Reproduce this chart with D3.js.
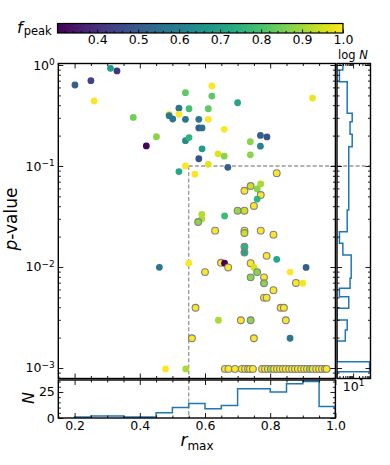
<!DOCTYPE html>
<html lang="en">
<head>
<meta charset="utf-8" />
<title>r_max vs p-value</title>
<script src="https://cdn.jsdelivr.net/npm/d3@7"></script>
<style>
  body { margin: 0; background: #fff; }
  svg { font-family: "DejaVu Sans", sans-serif; }
</style>
</head>
<body>
<svg id="chart" width="390" height="465"></svg>
<script>
// scatter points: r_max, p-value, f_peak, and whether the point is in the selected set (grey edge)
const rMax = [0.201, 0.250, 0.310, 0.330, 0.260, 0.380, 0.451, 0.420, 0.540, 0.621,
  0.621, 0.700, 0.930, 0.490, 0.490, 0.501, 0.520, 0.520, 0.551, 0.540,
  0.581, 0.610, 0.610, 0.581, 0.591, 0.659, 0.540, 0.551, 0.591, 0.581,
  0.640, 0.659, 0.739, 0.739, 0.770, 0.790, 0.770, 0.540, 0.610, 0.670,
  0.520, 0.569, 0.820, 0.740, 0.771, 0.721, 0.760, 0.771, 0.760, 0.750,
  0.700, 0.721, 0.590, 0.590, 0.579, 0.660, 0.631, 0.721, 0.721, 0.771,
  0.810, 0.721, 0.721, 0.789, 0.820, 0.460, 0.550, 0.649, 0.660, 0.671,
  0.740, 0.750, 0.760, 0.600, 0.861, 0.910, 0.740, 0.781, 0.879, 0.900,
  0.781, 0.810, 0.781, 0.789, 0.832, 0.842, 0.571, 0.641, 0.710, 0.740,
  0.848, 0.560, 0.750, 0.861, 0.479, 0.541];
const pValue = [0.634, 0.70, 0.927, 0.873, 0.44, 0.303, 0.195, 0.158, 0.532, 0.62,
  0.493, 0.423, 0.471, 0.325, 0.315, 0.292, 0.373, 0.325, 0.369, 0.29,
  0.29, 0.369, 0.29, 0.238, 0.238, 0.231, 0.178, 0.191, 0.148, 0.118,
  0.132, 0.125, 0.174, 0.129, 0.201, 0.194, 0.157, 0.100, 0.104, 0.097,
  0.088, 0.083, 0.085, 0.0634, 0.0664, 0.0569, 0.0592, 0.0516, 0.0471, 0.0402,
  0.0361, 0.0361, 0.0332, 0.0299, 0.0279, 0.032, 0.0229, 0.0229, 0.0217, 0.0229,
  0.0209, 0.0159, 0.0139, 0.0129, 0.0119, 0.00993, 0.0109, 0.0110, 0.0109, 0.0099,
  0.0109, 0.0099, 0.0089, 0.0089, 0.0089, 0.0099, 0.0079, 0.0079, 0.00695, 0.0069,
  0.0069, 0.0059, 0.00497, 0.00497, 0.00395, 0.00395, 0.00395, 0.00297, 0.00297, 0.00297,
  0.00297, 0.00197, 0.00197, 0.00197, 0.00098, 0.00098];
const fPeak = [0.51, 0.44, 0.69, 0.41, 1.0, 0.85, 0.875, 0.31, 0.826, 1.0,
  0.826, 0.72, 0.98, 1.0, 0.58, 0.58, 0.58, 1.0, 0.79, 0.58,
  0.58, 0.826, 1.0, 0.50, 0.55, 1.0, 0.65, 0.756, 0.69, 0.477,
  0.97, 0.875, 0.875, 0.875, 0.51, 0.477, 0.62, 1.0, 0.97, 0.51,
  0.72, 1.0, 1.0, 0.95, 0.91, 1.0, 0.875, 1.0, 0.756, 1.0,
  0.89, 0.95, 0.916, 0.916, 0.875, 0.78, 1.0, 1.0, 0.95, 1.0,
  1.0, 0.756, 0.72, 1.0, 0.72, 0.58, 1.0, 1.0, 0.303, 1.0,
  1.0, 0.958, 0.875, 1.0, 1.0, 0.51, 0.875, 1.0, 1.0, 0.99,
  0.875, 1.0, 1.0, 1.0, 1.0, 1.0, 1.0, 0.91, 1.0, 0.875,
  1.0, 1.0, 1.0, 0.58, 1.0, 0.91];
const selected = [0, 0, 0, 0, 0, 0, 0, 0, 0, 0,
  0, 0, 0, 0, 0, 0, 0, 0, 0, 0,
  0, 0, 0, 0, 0, 0, 0, 0, 0, 0,
  0, 0, 0, 0, 0, 0, 0, 0, 0, 0,
  0, 0, 1, 1, 0, 1, 0, 1, 0, 1,
  1, 1, 0, 0, 1, 0, 1, 1, 1, 1,
  1, 1, 1, 1, 0, 0, 0, 1, 0, 1,
  1, 0, 1, 1, 0, 0, 1, 1, 1, 0,
  1, 1, 1, 1, 1, 1, 1, 0, 1, 1,
  1, 1, 1, 0, 0, 0];

// points piled up at the p-value floor (all selected)
const floorP = 0.00098;
const floorR = [0.661, 0.672, 0.692, 0.713, 0.723, 0.732, 0.738, 0.747, 0.775, 0.784,
  0.793, 0.802, 0.812, 0.821, 0.830, 0.839, 0.848, 0.858, 0.867, 0.876,
  0.885, 0.895, 0.904, 0.913, 0.922, 0.931, 0.941, 0.950, 0.959, 0.968, 0.973];
const floorF = [1.0, 1.0, 1.0, 1.0, 1.0, 1.0, 1.0, 1.0, 1.0, 1.0,
  1.0, 0.9, 1.0, 1.0, 1.0, 1.0, 1.0, 1.0, 1.0, 1.0,
  1.0, 1.0, 1.0, 1.0, 0.9, 1.0, 1.0, 1.0, 1.0, 1.0, 1.0];

// bottom histogram of r_max
const rEdges = [0.2, 0.25, 0.3, 0.35, 0.4, 0.45, 0.5, 0.55, 0.6, 0.65, 0.7, 0.75, 0.8, 0.85, 0.9, 0.95, 1.0];
const rCounts = [1, 2, 2, 1, 1, 5, 10, 14, 9, 12, 28, 28, 25, 33, 35, 11];

// side histogram of p-value (bin edges as log10 p), counts on a log axis
const pEdgesLog = [0.015, -0.05, -0.165, -0.478, -0.561, -0.686, -0.809, -1.436, -1.650, -1.765,
  -1.881, -2.112, -2.211, -2.294, -2.409, -2.525, -2.624, -2.733, -2.938, -3.037, -3.104];
const pCounts = [3, 2, 5, 9, 7, 9, 6, 5, 2, 3, 8, 7, 2, 6, 0, 5, 4, 0, 70, 0];

// thresholds
const rCut = 0.55;
const pCut = 0.1;

// colorbar ticks
const cbTicks = [0.4, 0.5, 0.6, 0.7, 0.8, 0.9, 1.0];

const svg = d3.select("#chart");

// panel boxes
const main = { x0: 58.3, x1: 335.4, y0: 63.5, y1: 378.5 };
const side = { x0: 337, x1: 370.5, y0: 63.5, y1: 378.5 };
const bot = { x0: 58.3, x1: 335.4, y0: 380, y1: 418 };
const cb = { x0: 57.5, x1: 343, y0: 23.5, y1: 33 };

const x = d3.scaleLinear().domain([0.15, 1.0]).range([main.x0, main.x1]);
const y = d3.scaleLog().domain([Math.pow(10, -3.104), Math.pow(10, 0.0149)]).range([main.y1, main.y0]);
const nY = d3.scaleLinear().domain([0, 36.5]).range([bot.y1, bot.y0]);
const nX = d3.scaleLog().domain([1.5, 78]).range([side.x0, side.x1]).clamp(true);
const cX = d3.scaleLinear().domain([0.303, 1.0]).range([cb.x0, cb.x1]);
const color = d3.scaleSequential(d3.interpolateViridis).domain([0.303, 1.0]);

const defs = svg.append("defs");
[["clip-main", main], ["clip-side", side], ["clip-bot", bot]].forEach(([id, b]) => {
  defs.append("clipPath").attr("id", id)
    .append("rect").attr("x", b.x0).attr("y", b.y0)
    .attr("width", b.x1 - b.x0).attr("height", b.y1 - b.y0);
});

// ---- colorbar
const grad = defs.append("linearGradient").attr("id", "viridis");
d3.range(0, 1.0001, 0.05).forEach(t => {
  grad.append("stop").attr("offset", t).attr("stop-color", d3.interpolateViridis(t));
});
svg.append("rect")
  .attr("x", cb.x0).attr("y", cb.y0)
  .attr("width", cb.x1 - cb.x0).attr("height", cb.y1 - cb.y0)
  .attr("fill", "url(#viridis)");

// tick helper: inward ticks, no domain line
function axis(gen, tx, ty, values, size, fmt, pad) {
  const g = svg.append("g")
    .attr("transform", `translate(${tx},${ty})`)
    .call(gen.tickValues(values).tickSize(size).tickSizeOuter(0).tickPadding(pad || 3.5)
      .tickFormat(fmt || (() => "")));
  g.select(".domain").remove();
  g.attr("font-family", null).attr("font-size", "12.5px");
  g.selectAll(".tick line").attr("stroke", "#000").attr("stroke-width", 0.9);
  g.selectAll(".tick text").attr("fill", "#000");
  return g;
}

// "10^k" labels
function powLabels(g) {
  g.selectAll(".tick text").each(function (d) {
    const e = Math.round(Math.log10(d));
    const t = d3.select(this).text(null);
    t.append("tspan").text("10");
    t.append("tspan").attr("dy", "-0.5em").attr("font-size", "9px")
      .text(e < 0 ? "\u2212" + (-e) : String(e));
  });
}

const cbMinor = d3.range(0.32, 1.0, 0.02).filter(v => Math.abs(v * 10 - Math.round(v * 10)) > 0.01);
axis(d3.axisBottom(cX), 0, cb.y1, cbMinor, -2);
axis(d3.axisBottom(cX), 0, cb.y1, cbTicks, -3.5, d3.format(".1f"), 2.5);

svg.append("rect")
  .attr("x", cb.x0).attr("y", cb.y0)
  .attr("width", cb.x1 - cb.x0).attr("height", cb.y1 - cb.y0)
  .attr("fill", "none").attr("stroke", "#000").attr("stroke-width", 1.2);

svg.append("text")
  .attr("x", 17).attr("y", 32.5).attr("font-size", "16px")
  .call(t => {
    t.append("tspan").attr("font-style", "italic").text("f");
    t.append("tspan").attr("font-size", "11.5px").attr("dy", 2.5).attr("dx", 1).text("peak");
  });

// ---- main scatter
const pts = rMax.map((r, i) => ({ r: r, p: pValue[i], f: fPeak[i], sel: selected[i] }))
  .concat(floorR.map((r, i) => ({ r: r, p: floorP, f: floorF[i], sel: 1 })));

// dashed selection box
const dash = svg.append("g")
  .attr("stroke", "#999").attr("stroke-width", 1.3)
  .attr("stroke-dasharray", "4,2.2").attr("fill", "none");
dash.append("line").attr("x1", x(rCut)).attr("x2", x(rCut)).attr("y1", y(pCut)).attr("y2", main.y1);
dash.append("line").attr("x1", x(rCut)).attr("x2", main.x1).attr("y1", y(pCut)).attr("y2", y(pCut));
dash.append("line").attr("x1", x(rCut)).attr("x2", x(rCut)).attr("y1", bot.y0).attr("y2", bot.y1);
dash.append("line").attr("x1", side.x0).attr("x2", side.x1).attr("y1", y(pCut)).attr("y2", y(pCut));

svg.append("g").attr("clip-path", "url(#clip-main)")
  .selectAll("circle")
  .data(pts)
  .enter()
  .append("circle")
  .attr("cx", d => x(d.r))
  .attr("cy", d => y(d.p))
  .attr("r", 3.4)
  .attr("fill", d => color(d.f))
  .attr("stroke", d => d.sel ? "#808080" : "none")
  .attr("stroke-width", 1.1);

// main ticks
const yMajor = [1e-3, 1e-2, 1e-1, 1];
const yMinor = [];
for (let e = -4; e <= 0; e++) {
  for (let k = 2; k <= 9; k++) {
    const v = k * Math.pow(10, e);
    if (v >= y.domain()[0] && v <= y.domain()[1]) yMinor.push(v);
  }
}
const xMajor = [0.2, 0.4, 0.6, 0.8, 1.0];
const xMinor = [0.15, 0.25, 0.3, 0.35, 0.45, 0.5, 0.55, 0.65, 0.7, 0.75, 0.85, 0.9, 0.95];

powLabels(axis(d3.axisLeft(y), main.x0, 0, yMajor, -5, d => d));
axis(d3.axisLeft(y), main.x0, 0, yMinor, -2.5);
axis(d3.axisRight(y), main.x1, 0, yMajor, -5);
axis(d3.axisRight(y), main.x1, 0, yMinor, -2.5);
axis(d3.axisBottom(x), 0, main.y1, xMajor, -5);
axis(d3.axisBottom(x), 0, main.y1, xMinor, -2.5);
axis(d3.axisTop(x), 0, main.y0, xMajor, -5);
axis(d3.axisTop(x), 0, main.y0, xMinor, -2.5);

svg.append("text")
  .attr("transform", `translate(17, 219) rotate(-90)`)
  .attr("text-anchor", "middle").attr("font-size", "17px")
  .call(t => {
    t.append("tspan").attr("font-style", "italic").text("p");
    t.append("tspan").text("-value");
  });

// ---- bottom histogram
const botPts = [[rEdges[0], 0]];
rCounts.forEach((c, i) => { botPts.push([rEdges[i], c], [rEdges[i + 1], c]); });
botPts.push([rEdges[rEdges.length - 1], 0]);
svg.append("path")
  .attr("clip-path", "url(#clip-bot)")
  .attr("d", d3.line().x(d => x(d[0])).y(d => nY(d[1]))(botPts))
  .attr("fill", "none").attr("stroke", "#1f77b4").attr("stroke-width", 1.5);

axis(d3.axisBottom(x), 0, bot.y1, xMajor, -5, d3.format(".1f"));
axis(d3.axisBottom(x), 0, bot.y1, xMinor, -2.5);
axis(d3.axisTop(x), 0, bot.y0, xMajor, -5);
axis(d3.axisTop(x), 0, bot.y0, xMinor, -2.5);
axis(d3.axisLeft(nY), bot.x0, 0, [0, 25], -5, d3.format("d"));
axis(d3.axisLeft(nY), bot.x0, 0, [5, 10, 15, 20, 30, 35], -2.5);
axis(d3.axisRight(nY), bot.x1, 0, [0, 25], -5);
axis(d3.axisRight(nY), bot.x1, 0, [5, 10, 15, 20, 30, 35], -2.5);

svg.append("text")
  .attr("transform", `translate(34, 398) rotate(-90)`)
  .attr("text-anchor", "middle").attr("font-size", "16px")
  .attr("font-style", "italic").text("N");

svg.append("text")
  .attr("x", 197).attr("y", 446)
  .attr("text-anchor", "middle").attr("font-size", "17px")
  .call(t => {
    t.append("tspan").attr("font-style", "italic").text("r");
    t.append("tspan").attr("font-size", "12px").attr("dy", 3.5).text("max");
  });

// ---- side histogram (log N)
const sidePts = [[0, pEdgesLog[0]]];
pCounts.forEach((c, i) => { sidePts.push([c, pEdgesLog[i]], [c, pEdgesLog[i + 1]]); });
sidePts.push([0, pEdgesLog[pEdgesLog.length - 1]]);
svg.append("path")
  .attr("clip-path", "url(#clip-side)")
  .attr("d", d3.line()
    .x(d => d[0] > 0 ? nX(d[0]) : side.x0)
    .y(d => y(Math.pow(10, d[1])))(sidePts))
  .attr("fill", "none").attr("stroke", "#1f77b4").attr("stroke-width", 1.5);

const nMinor = [2, 3, 4, 5, 6, 7, 8, 9, 20, 30, 40, 50, 60, 70];
powLabels(axis(d3.axisBottom(nX), 0, side.y1, [10], -5, d => d));
axis(d3.axisBottom(nX), 0, side.y1, nMinor, -2.5);
axis(d3.axisTop(nX), 0, side.y0, [10], -5);
axis(d3.axisTop(nX), 0, side.y0, nMinor, -2.5);
axis(d3.axisLeft(y), side.x0, 0, yMajor, -5);
axis(d3.axisLeft(y), side.x0, 0, yMinor, -2.5);
axis(d3.axisRight(y), side.x1, 0, yMajor, -5);
axis(d3.axisRight(y), side.x1, 0, yMinor, -2.5);

svg.append("text")
  .attr("x", 353).attr("y", 59)
  .attr("text-anchor", "middle").attr("font-size", "11.5px")
  .call(t => {
    t.append("tspan").text("log ");
    t.append("tspan").attr("font-style", "italic").text("N");
  });

// ---- frames on top
[main, side, bot].forEach(b => {
  svg.append("rect")
    .attr("x", b.x0).attr("y", b.y0)
    .attr("width", b.x1 - b.x0).attr("height", b.y1 - b.y0)
    .attr("fill", "none").attr("stroke", "#000").attr("stroke-width", 1.4);
});
</script>
</body>
</html>
